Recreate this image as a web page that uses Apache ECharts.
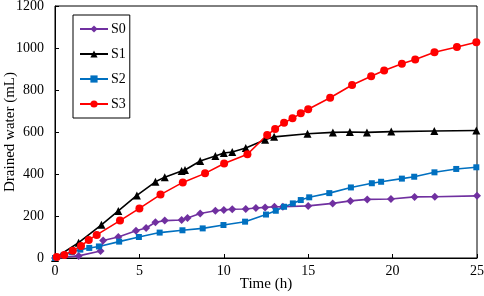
<!DOCTYPE html>
<html>
<head>
<meta charset="utf-8">
<script src="https://cdn.jsdelivr.net/npm/echarts@6/dist/echarts.min.js"></script>
<style>html,body{margin:0;padding:0;background:#fff}#c{width:484px;height:296px}</style>
</head>
<body>
<div id="c"></div>
<script>
var seriesNames = ['S0', 'S1', 'S2', 'S3'];
var xTicks = [0, 5, 10, 15, 20, 25];
var yTicks = [0, 200, 400, 600, 800, 1000, 1200];

var s0Time = [0, 1.4, 2.7, 2.85, 3.75, 4.8, 5.4, 5.95, 6.5, 7.5, 7.85, 8.6, 9.5, 10.0, 10.5, 11.3, 11.9, 12.45, 13.0, 13.5, 15.0, 16.45, 17.5, 18.5, 19.9, 21.3, 22.5, 25.0];
var s0Values = [0, 10, 33, 83, 100, 130, 143, 170, 178, 181, 190, 212, 225, 229, 232, 233, 238, 241, 244, 244, 248, 260, 272, 279, 281, 291, 292, 296];

var s1Time = [0, 1.4, 2.75, 3.75, 4.85, 5.95, 6.5, 7.5, 7.7, 8.6, 9.5, 10.0, 10.5, 11.3, 12.45, 12.98, 14.96, 16.46, 17.47, 18.48, 19.92, 22.47, 24.96];
var s1Values = [0, 73, 158, 224, 298, 363, 385, 414, 419, 462, 486, 500, 505, 524, 563, 577, 592, 598, 600, 598, 602, 605, 607];

var s2Time = [0, 0.5, 1.0, 1.5, 2.03, 2.6, 3.8, 4.97, 6.2, 7.55, 8.75, 9.98, 11.26, 12.5, 13.08, 13.57, 14.09, 14.56, 15.06, 16.25, 17.53, 18.77, 19.32, 20.55, 21.28, 22.48, 23.77, 24.96];
var s2Values = [0, 12, 28, 40, 48, 55, 78, 100, 121, 132, 141, 157, 173, 207, 225, 244, 260, 276, 289, 309, 336, 356, 363, 378, 387, 408, 424, 432];

var s3Time = [0.1, 0.55, 1.05, 1.54, 2.0, 2.47, 3.85, 5.0, 6.25, 7.57, 8.89, 10.02, 11.4, 12.57, 13.04, 13.57, 14.07, 14.56, 15.0, 16.3, 17.6, 18.73, 19.5, 20.55, 21.34, 22.48, 23.81, 24.96];
var s3Values = [5, 14, 35, 57, 86, 110, 178, 236, 302, 360, 403, 450, 494, 586, 614, 644, 665, 689, 708, 763, 824, 865, 893, 925, 945, 980, 1005, 1027];

function pairs(t, v) { return t.map(function (x, i) { return [x, v[i]]; }); }

var font = 'Liberation Serif, Times New Roman, serif';
var chart = echarts.init(document.getElementById('c'), null, { renderer: 'canvas' });

function mk(name, t, v, color, symbol, size) {
  return {
    name: name, type: 'line', data: pairs(t, v),
    symbol: symbol, symbolSize: size,
    lineStyle: { color: color, width: 1.6 },
    itemStyle: { color: color },
    emphasis: { disabled: true },
    animation: false
  };
}

chart.setOption({
  animation: false,
  backgroundColor: '#fff',
  grid: { left: 55, right: 7, top: 6, bottom: 38, show: true, borderColor: '#000', borderWidth: 1,
    containLabel: false, outerBoundsMode: 'none' },
  legend: {
    data: seriesNames,
    orient: 'vertical', left: 73, top: 15,
    itemWidth: 28, itemHeight: 9, itemGap: 11,
    padding: [7, 4, 7, 6],
    borderColor: '#000', borderWidth: 1,
    textStyle: { fontFamily: font, fontSize: 14, color: '#000', padding: [0, 0, 0, -2] }
  },
  xAxis: {
    type: 'value', min: 0, max: 25, interval: 5,
    name: 'Time (h)', nameLocation: 'middle', nameGap: 19, nameMoveOverlap: false,
    nameTextStyle: { fontFamily: font, fontSize: 15, color: '#000', fontWeight: 'normal' },
    axisLine: { show: true, lineStyle: { color: '#000', width: 1 } },
    axisTick: { show: true, inside: true, length: 4, lineStyle: { color: '#000' } },
    axisLabel: { fontFamily: font, fontSize: 14, color: '#000', margin: 6,
      formatter: function (v) { return xTicks.indexOf(v) >= 0 ? String(v) : ''; } },
    splitLine: { show: false }
  },
  yAxis: {
    type: 'value', min: 0, max: 1200, interval: 200,
    name: 'Drained water (mL)', nameLocation: 'middle', nameGap: 37, nameMoveOverlap: false,
    nameTextStyle: { fontFamily: font, fontSize: 15, color: '#000', fontWeight: 'normal' },
    axisLine: { show: true, lineStyle: { color: '#000', width: 1 } },
    axisTick: { show: true, inside: true, length: 4, lineStyle: { color: '#000' } },
    axisLabel: { fontFamily: font, fontSize: 14, color: '#000', margin: 11,
      formatter: function (v) { return yTicks.indexOf(v) >= 0 ? String(v) : ''; } },
    splitLine: { show: false }
  },
  series: [
    mk(seriesNames[0], s0Time, s0Values, '#7030A0', 'diamond', 8),
    mk(seriesNames[1], s1Time, s1Values, '#000000', 'triangle', 8),
    mk(seriesNames[2], s2Time, s2Values, '#0070C0', 'rect', 6),
    mk(seriesNames[3], s3Time, s3Values, '#FF0000', 'circle', 8)
  ]
});
</script>
</body>
</html>
